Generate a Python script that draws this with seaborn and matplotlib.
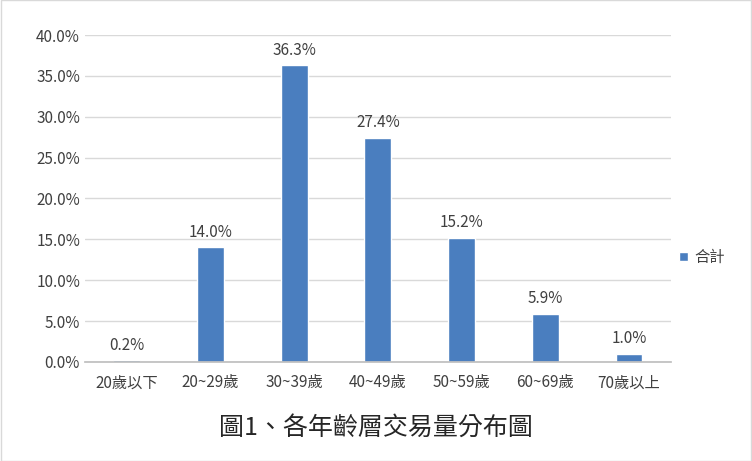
import matplotlib
matplotlib.use("Agg")
import matplotlib.pyplot as plt
import seaborn as sns
import pandas as pd
from matplotlib.ticker import PercentFormatter, MultipleLocator

categories = ["20歲以下", "20~29歲", "30~39歲", "40~49歲", "50~59歲", "60~69歲", "70歲以上"]
values = [0.2, 14.0, 36.3, 27.4, 15.2, 5.9, 1.0]
series_name = "合計"
title = "圖1、各年齡層交易量分布圖"

sns.set_theme(style="white")
plt.rcParams['font.family'] = ['Noto Sans CJK TC', 'DejaVu Sans']

df = pd.DataFrame({"cat": categories, "val": values, "series": series_name})

fig = plt.figure(figsize=(7.52, 4.61), dpi=100)
ax = fig.add_axes([0.113, 0.215, 0.779, 0.709])
sns.barplot(data=df, x="cat", y="val", hue="series", palette=["#4A7EBF"],
            width=0.32, ax=ax, saturation=1)
ax.set_ylim(0, 40)
ax.yaxis.set_major_locator(MultipleLocator(5))
ax.yaxis.set_major_formatter(PercentFormatter(decimals=1))
ax.grid(axis="y", color="#D9D9D9", linewidth=1)
ax.set_axisbelow(True)
for s in ["top", "right", "left"]:
    ax.spines[s].set_visible(False)
ax.spines["bottom"].set_color("#BFBFBF")
ax.tick_params(axis="both", colors="#404040", labelsize=11, length=0)
ax.tick_params(axis="x", pad=9)
ax.set_xlabel("")
ax.set_ylabel("")
for i, v in enumerate(values):
    ax.text(i, v + 0.8, f"{v:.1f}%", ha="center", va="bottom", fontsize=11, color="#404040")
leg = ax.legend(loc="center left", bbox_to_anchor=(0.99, 0.32), frameon=False,
                fontsize=11, handlelength=0.6, handleheight=0.6, handletextpad=0.4,
                labelcolor="#404040")
fig.text(0.5, 0.072, title, ha="center", va="center", fontsize=18, color="#262626")
fig.patches.append(plt.Rectangle((0.001, 0.001), 0.998, 0.998, transform=fig.transFigure,
                                 fill=False, edgecolor="#D9D9D9", linewidth=1))
fig.savefig("out.png", dpi=100)
